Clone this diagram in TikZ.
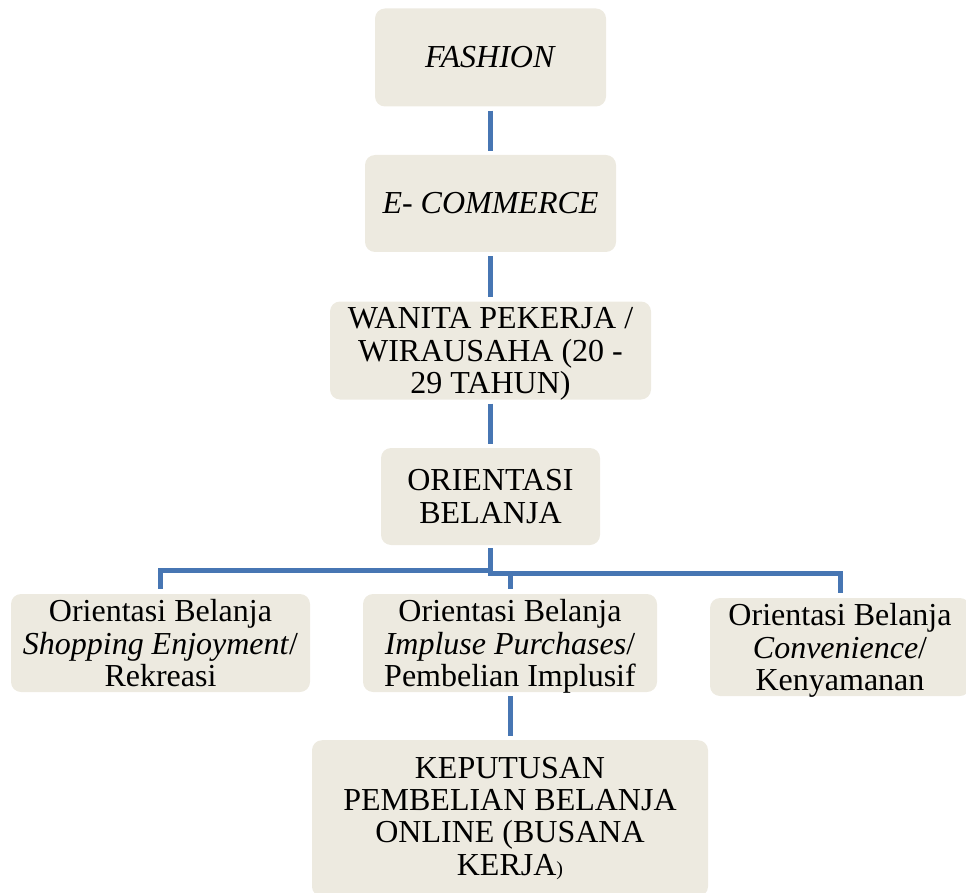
\documentclass[tikz,border=0pt]{standalone}
\usepackage{fontspec}
\setmainfont{Liberation Serif}
\definecolor{boxfill}{HTML}{EDEAE0}
\definecolor{linkblue}{HTML}{4776B3}
\tikzset{
  box/.style={fill=boxfill, rounded corners=10pt, align=center, inner sep=0pt,
    font=\fontsize{32}{32.3}\selectfont},
  link/.style={draw=linkblue, line width=5pt},
  gap/.style={shorten <=4pt, shorten >=4pt}
}
\begin{document}
\begin{tikzpicture}[x=1pt,y=-1pt]
\useasboundingbox (0,0) rectangle (966,893);
\node[box, minimum width=231pt, minimum height=98pt] (fashion) at (490.5,57.5) {\textit{FASHION}};
\node[box, minimum width=251pt, minimum height=97pt] (ecom) at (490.5,203.5) {\textit{E- COMMERCE}};
\node[box, minimum width=321pt, minimum height=98pt, text depth=0pt] (wanita) at (490.5,350.5) {WANITA PEKERJA /\\WIRAUSAHA (20 -\\29 TAHUN)};
\node[box, minimum width=219pt, minimum height=97pt] (orient) at (490.5,496.5) {ORIENTASI\\BELANJA};
\node[box, minimum width=299pt, minimum height=98pt, text depth=0pt] (left) at (160.5,643) {Orientasi Belanja\\\textit{Shopping Enjoyment}/\\Rekreasi};
\node[box, minimum width=294pt, minimum height=98pt, text depth=0pt] (middle) at (510,643) {Orientasi Belanja\\\textit{Impluse Purchases}/\\Pembelian Implusif};
\node[box, minimum width=260pt, minimum height=98pt, text depth=0pt] (right) at (840,647) {Orientasi Belanja\\\textit{Convenience}/\\Kenyamanan};
\node[box, minimum width=396pt, inner ysep=17pt, anchor=north] (bottom) at (510,740) {KEPUTUSAN\\PEMBELIAN BELANJA\\ONLINE (BUSANA\\KERJA{\fontsize{20}{20}\selectfont)}};
\draw[link, gap] (fashion.south) -- (ecom.north);
\draw[link, gap] (ecom.south) -- (wanita.north);
\draw[link, gap] (wanita.south) -- (orient.north);
\coordinate (brl) at (490.5,570);
\coordinate (brr) at (490.5,573);
\draw[link, shorten <=3pt, shorten >=-2.5pt] (orient.south) -- (brr);
\draw[link, shorten >=5pt] (brl) -| (left.north);
\draw[link, shorten >=5pt] (brr) -| (right.north);
\draw[link, shorten >=5pt] (brr) -| (middle.north);
\draw[link, gap] (middle.south) -- (bottom.north);
\end{tikzpicture}
\end{document}
